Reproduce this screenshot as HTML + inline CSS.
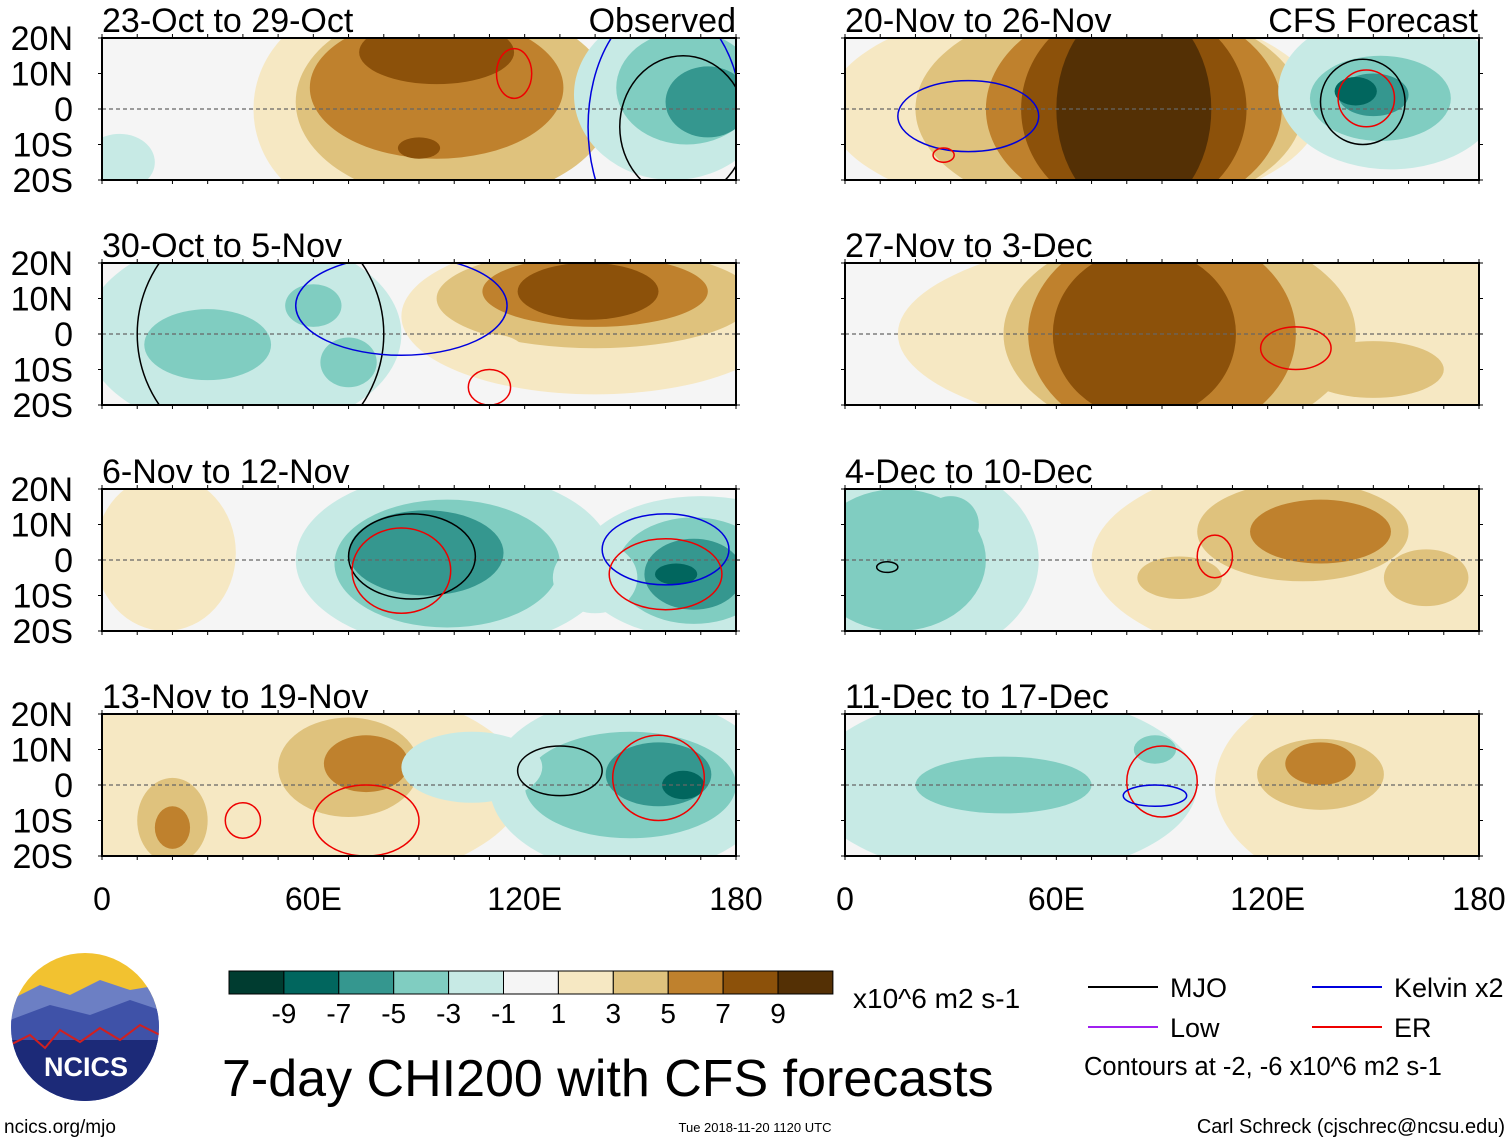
<!DOCTYPE html>
<html><head><meta charset="utf-8">
<style>
body{margin:0;background:#fff;}
#root{position:relative;width:1510px;height:1142px;overflow:hidden;font-family:"Liberation Sans",sans-serif;}
svg text{font-family:"Liberation Sans",sans-serif;}
</style></head><body>
<div id="root">
<svg id="s" width="1510" height="1142" viewBox="0 0 1510 1142"></svg>
</div>
<script>
// color levels -5..5
const levelColors=["#003c30","#01665e","#35978f","#80cdc1","#c7eae5","#f5f5f5","#f6e8c3","#dfc27d","#bf812d","#8c510a","#543005"];
const levelLabels=["-9","-7","-5","-3","-1","1","3","5","7","9"];
const panelTitles=["23-Oct to 29-Oct","30-Oct to 5-Nov","6-Nov to 12-Nov","13-Nov to 19-Nov","20-Nov to 26-Nov","27-Nov to 3-Dec","4-Dec to 10-Dec","11-Dec to 17-Dec"];
const latTicks=[20,10,0,-10,-20];
const latLabels=["20N","10N","0","10S","20S"];
const lonTicks=[0,60,120,180];
const lonLabels=["0","60E","120E","180"];
// blobs: [lon, lat, rxDeg, ryDeg, level]
const blobs0=[[75,0,32,30,1],[100,2,45,28,2],[95,6,36,20,3],[95,16,22,9,4],[90,-11,6,3,4],[5,-15,10,8,-1],[162,4,28,24,-1],[166,6,20,16,-2],[172,2,12,10,-3]];
const blobs1=[[40,0,45,28,-1],[30,-3,18,10,-2],[70,-8,8,7,-2],[60,8,8,6,-2],[140,5,55,22,1],[140,10,45,14,2],[140,12,32,10,3],[138,12,20,8,4],[110,-5,10,5,1],[175,-5,8,5,1]];
const blobs2=[[18,2,20,22,1],[100,0,45,25,-1],[98,-1,32,18,-2],[92,2,22,12,-3],[170,-2,35,20,-1],[168,-3,22,15,-2],[168,-4,14,10,-3],[163,-4,6,3,-4],[140,-5,12,10,-1]];
const blobs3=[[50,0,70,30,1],[70,5,20,14,2],[75,6,12,8,3],[20,-10,10,12,2],[20,-12,5,6,3],[150,0,40,25,-1],[150,0,30,15,-2],[158,3,15,9,-3],[165,0,6,4,-4],[105,5,20,10,-1]];
const blobs4=[[65,0,70,30,1],[75,0,55,30,2],[82,0,42,30,3],[82,0,32,30,4],[82,0,22,30,5],[155,5,32,22,-1],[152,3,20,12,-2],[150,4,10,6,-3],[145,5,6,4,-4]];
const blobs5=[[110,0,95,30,1],[95,0,50,30,2],[90,0,38,30,3],[85,0,26,24,4],[150,-10,20,8,2]];
const blobs6=[[20,0,35,28,-1],[15,0,25,20,-2],[30,10,8,8,-2],[140,0,70,30,1],[130,8,30,14,2],[135,8,20,9,3],[95,-5,12,6,2],[165,-5,12,8,2]];
const blobs7=[[45,0,55,26,-1],[45,0,25,8,-2],[88,10,6,4,-2],[150,0,45,30,1],[135,3,18,10,2],[135,6,10,6,3]];
const allBlobs=[blobs0,blobs1,blobs2,blobs3,blobs4,blobs5,blobs6,blobs7];
// contours: [lon, lat, rx, ry, color]
const contours=[
 [[117,10,5,7,"#e00"],[160,-5,22,35,"#00d"],[165,-5,18,20,"#000"]],
 [[45,0,35,35,"#000"],[85,8,30,14,"#00d"],[110,-15,6,5,"#e00"]],
 [[88,1,18,12,"#000"],[85,-3,14,12,"#e00"],[160,3,18,10,"#00d"],[160,-4,16,10,"#e00"]],
 [[130,4,12,7,"#000"],[158,2,13,12,"#e00"],[75,-10,15,10,"#e00"],[40,-10,5,5,"#e00"]],
 [[35,-2,20,10,"#00d"],[28,-13,3,2,"#e00"],[147,2,12,12,"#000"],[148,3,8,8,"#e00"]],
 [[128,-4,10,6,"#e00"]],
 [[12,-2,3,1.5,"#000"],[105,1,5,6,"#e00"]],
 [[90,1,10,10,"#e00"],[88,-3,9,3,"#00d"]]
];
const NS="http://www.w3.org/2000/svg";
const svg=document.getElementById('s');
function mk(tag,attrs,parent){const e=document.createElementNS(NS,tag);for(const k in attrs)e.setAttribute(k,attrs[k]);(parent||svg).appendChild(e);return e;}
const PW=634,PH=142;
const panelX=[102,102,102,102,845,845,845,845];
const panelY=[38,263,489,714,38,263,489,714];
for(let p=0;p<8;p++){
 const x0=panelX[p],y0=panelY[p];
 const xs=lon=>x0+lon/180*PW, ys=lat=>y0+(20-lat)/40*PH;
 const sx=d=>d/180*PW, sy=d=>d/40*PH;
 const g=mk('g',{});
 
 
 const cid='c'+p;
 const cp=mk('clipPath',{id:cid},g);mk('rect',{x:x0,y:y0,width:PW,height:PH},cp);
 const inner=mk('g',{'clip-path':'url(#'+cid+')'},g);
 mk('rect',{x:x0,y:y0,width:PW,height:PH,fill:levelColors[5]},inner);
 allBlobs[p].forEach(b=>{
  const e=mk('ellipse',{cx:xs(b[0]),cy:ys(b[1]),rx:sx(b[2]),ry:sy(b[3]),fill:levelColors[b[4]+5]},inner);
  
  
 });
 mk('line',{x1:x0,y1:ys(0),x2:x0+PW,y2:ys(0),stroke:"#666",'stroke-width':1.2,'stroke-dasharray':'4,3'},inner);
 contours[p].forEach(c=>{
  const e=mk('ellipse',{cx:xs(c[0]),cy:ys(c[1]),rx:sx(c[2]),ry:sy(c[3]),fill:'none',stroke:c[4],'stroke-width':1.5},inner);
  
  
 });
 mk('rect',{x:x0,y:y0,width:PW,height:PH,fill:'none',stroke:'#000','stroke-width':2},g);
 for(let lon=0;lon<=180;lon+=10){mk('line',{x1:xs(lon),y1:y0,x2:xs(lon),y2:y0-4,stroke:'#000'},g);mk('line',{x1:xs(lon),y1:y0+PH,x2:xs(lon),y2:y0+PH+4,stroke:'#000'},g);}
 for(let lat=-20;lat<=20;lat+=10){mk('line',{x1:x0,y1:ys(lat),x2:x0-4,y2:ys(lat),stroke:'#000'},g);mk('line',{x1:x0+PW,y1:ys(lat),x2:x0+PW+4,y2:ys(lat),stroke:'#000'},g);}
 const t=mk('text',{x:x0,y:y0-6,'font-size':34,fill:'#000'},g);t.textContent=panelTitles[p];
 
 
 if(p<4){latTicks.forEach((lat,i)=>{const l=mk('text',{x:73,y:ys(lat)+12,'font-size':34,'text-anchor':'end'});l.textContent=latLabels[i];
  
  });}
}
const h1=mk('text',{x:736,y:32,'font-size':34,'text-anchor':'end'});h1.textContent="Observed";

const h2=mk('text',{x:1478,y:32,'font-size':34,'text-anchor':'end'});h2.textContent="CFS Forecast";

[102,845].forEach(x0=>{lonTicks.forEach((lon,i)=>{const l=mk('text',{x:x0+lon/180*PW,y:910,'font-size':32,'text-anchor':'middle'});l.textContent=lonLabels[i];
 
 });});
// colorbar
const cbW=54.9;
levelColors.forEach((c,i)=>{const r=mk('rect',{x:229+i*cbW,y:971,width:cbW,height:23,fill:c,stroke:'#000','stroke-width':1});
 });
levelLabels.forEach((s,i)=>{const t=mk('text',{x:229+(i+1)*cbW,y:1023,'font-size':28,'text-anchor':'middle'});t.textContent=s;
 });
function txt(x,y,s,fs,name,anchor){const t=mk('text',{x:x,y:y,'font-size':fs,'text-anchor':anchor||'start'});t.textContent=s;
 return t;}
txt(853,1008,"x10^6 m2 s-1",28,'colorbar-units');
txt(222,1096,"7-day CHI200 with CFS forecasts",52,'main-title');
txt(4,1133,"ncics.org/mjo",19,'site-url');
txt(755,1132,"Tue 2018-11-20 1120 UTC",13,'timestamp','middle');
txt(1505,1133,"Carl Schreck (cjschrec@ncsu.edu)",20,'author-credit','end');
// legend
[[1088,987,"#000","MJO"],[1312,987,"#00d","Kelvin x2"],[1088,1027,"#a020f0","Low"],[1312,1027,"#e00","ER"]].forEach(l=>{
 const ln=mk('line',{x1:l[0],y1:l[1],x2:l[0]+70,y2:l[1],stroke:l[2],'stroke-width':2});
 
 txt(l[0]+82,l[1]+10,l[3],27,'legend-entry');
});
txt(1084,1075,"Contours at -2, -6 x10^6 m2 s-1",25.5,'contour-note');
// logo
const lg=mk('g',{});
const lcp=mk('clipPath',{id:'lc'},lg);mk('circle',{cx:85,cy:1027,r:74},lcp);
const lgi=mk('g',{'clip-path':'url(#lc)'},lg);
mk('rect',{x:10,y:950,width:150,height:60,fill:'#f2c230'},lgi);
mk('polygon',{points:'10,1000 40,985 70,995 100,980 130,990 160,985 160,1110 10,1110',fill:'#6c7fc4'},lgi);
mk('polygon',{points:'10,1020 50,1005 90,1015 130,1000 160,1010 160,1110 10,1110',fill:'#3f52a8'},lgi);
mk('rect',{x:10,y:1040,width:150,height:70,fill:'#1c2a78'},lgi);
mk('polyline',{points:'10,1045 30,1035 45,1048 60,1030 80,1042 100,1028 120,1040 140,1025 160,1035',fill:'none',stroke:'#d02020','stroke-width':2},lgi);
const lt=mk('text',{x:86,y:1076,'font-size':27,'font-weight':'bold',fill:'#fff','text-anchor':'middle'},lg);lt.textContent="NCICS";
</script>
</body></html>
